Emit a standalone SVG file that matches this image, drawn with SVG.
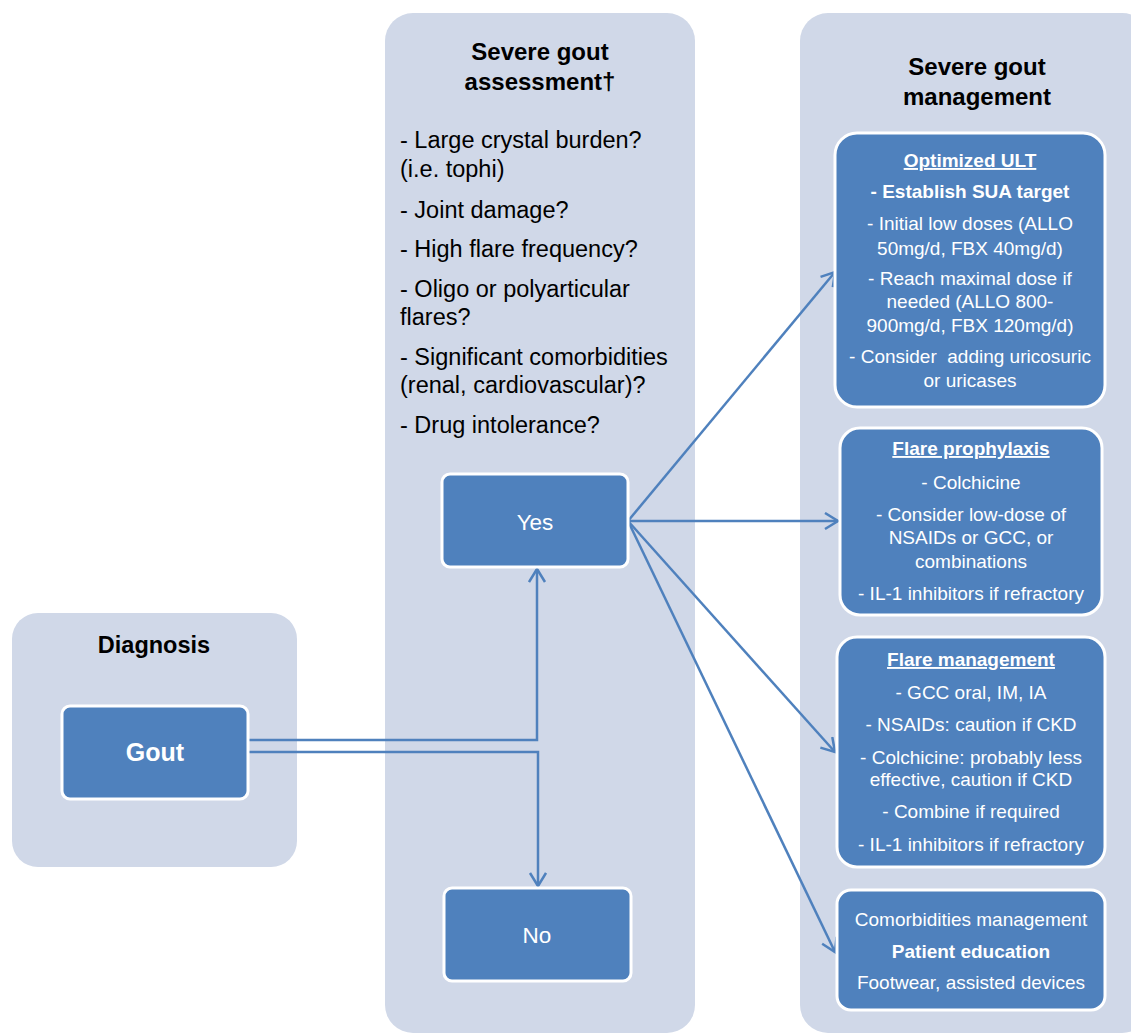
<svg xmlns="http://www.w3.org/2000/svg" width="1131" height="1035" viewBox="0 0 1131 1035">
<style>
.panel{fill:#D0D8E8}
.box{fill:#4F81BD;stroke:#FFFFFF;stroke-width:3}
.ttl{font-family:"Liberation Sans",Arial,sans-serif;font-weight:bold;font-size:24px;fill:#000;text-anchor:middle}
.lst{font-family:"Liberation Sans",Arial,sans-serif;font-size:23.5px;fill:#000}
.bt{font-family:"Liberation Sans",Arial,sans-serif;font-size:19px;fill:#fff;text-anchor:middle}
.b{font-weight:bold}
.u{text-decoration:underline}
.con{fill:none;stroke:#4F81BD;stroke-width:2.5}
</style>
<defs>
<marker id="arr" markerUnits="userSpaceOnUse" markerWidth="18" markerHeight="20" refX="14" refY="9" orient="auto">
<path d="M1,1 L14,9 L1,17" fill="none" stroke="#4F81BD" stroke-width="2.5"/>
</marker>
</defs>
<rect width="1131" height="1035" fill="#fff"/>
<g id="panel-diagnosis">
<rect class="panel" x="12" y="613" width="285" height="254" rx="26"/>
<text class="ttl" x="154" y="653" style="font-size:23.5px">Diagnosis</text>
</g>
<g id="panel-assessment">
<rect class="panel" x="385" y="13" width="310" height="1020" rx="28"/>
<text class="ttl" x="540" y="60">Severe gout</text>
<text class="ttl" x="540" y="90">assessment†</text>
<text class="lst" x="400" y="148">- Large crystal burden?</text>
<text class="lst" x="400" y="177">(i.e. tophi)</text>
<text class="lst" x="400" y="218">- Joint damage?</text>
<text class="lst" x="400" y="257">- High flare frequency?</text>
<text class="lst" x="400" y="297">- Oligo or polyarticular</text>
<text class="lst" x="400" y="325">flares?</text>
<text class="lst" x="400" y="365">- Significant comorbidities</text>
<text class="lst" x="400" y="393">(renal, cardiovascular)?</text>
<text class="lst" x="400" y="433">- Drug intolerance?</text>
</g>
<g id="panel-management">
<rect class="panel" x="800" y="13" width="350" height="1020" rx="28"/>
<text class="ttl" x="977" y="75">Severe gout</text>
<text class="ttl" x="977" y="105">management</text>
</g>
<g id="connectors">
<polyline class="con" points="248,740 537,740 537,569" marker-end="url(#arr)"/>
<polyline class="con" points="248,752 538,752 538,886" marker-end="url(#arr)"/>
<line class="con" x1="628" y1="521" x2="835" y2="272" marker-end="url(#arr)"/>
<line class="con" x1="628" y1="521" x2="838" y2="521" marker-end="url(#arr)"/>
<line class="con" x1="628" y1="521" x2="835" y2="752" marker-end="url(#arr)"/>
<line class="con" x1="628" y1="521" x2="835" y2="952" marker-end="url(#arr)"/>
</g>
<g id="node-gout">
<rect class="box" x="62" y="706" width="186" height="93" rx="8"/>
<text class="bt b" x="155" y="761" style="font-size:25px">Gout</text>
</g>
<g id="node-yes">
<rect class="box" x="442" y="474" width="186" height="93" rx="8"/>
<text class="bt" x="535" y="530" style="font-size:22.5px">Yes</text>
</g>
<g id="node-no">
<rect class="box" x="444" y="888" width="187" height="93" rx="8"/>
<text class="bt" x="537" y="943" style="font-size:22.5px">No</text>
</g>
<g id="node-ult">
<rect class="box" x="835" y="133" width="270" height="274" rx="22"/>
<text class="bt b u" x="970" y="167">Optimized ULT</text>
<text class="bt b" x="970" y="198">- Establish SUA target</text>
<text class="bt" x="970" y="230">- Initial low doses (ALLO</text>
<text class="bt" x="970" y="255">50mg/d, FBX 40mg/d)</text>
<text class="bt" x="970" y="285">- Reach maximal dose if</text>
<text class="bt" x="970" y="308">needed (ALLO 800-</text>
<text class="bt" x="970" y="332">900mg/d, FBX 120mg/d)</text>
<text class="bt" x="970" y="363" xml:space="preserve">- Consider  adding uricosuric</text>
<text class="bt" x="970" y="387">or uricases</text>
</g>
<g id="node-prophylaxis">
<rect class="box" x="840" y="428" width="262" height="187" rx="20"/>
<text class="bt b u" x="971" y="455">Flare prophylaxis</text>
<text class="bt" x="971" y="489">- Colchicine</text>
<text class="bt" x="971" y="521">- Consider low-dose of</text>
<text class="bt" x="971" y="544">NSAIDs or GCC, or</text>
<text class="bt" x="971" y="568">combinations</text>
<text class="bt" x="971" y="600">- IL-1 inhibitors if refractory</text>
</g>
<g id="node-flare-management">
<rect class="box" x="837" y="637" width="268" height="230" rx="20"/>
<text class="bt b u" x="971" y="666">Flare management</text>
<text class="bt" x="971" y="699">- GCC oral, IM, IA</text>
<text class="bt" x="971" y="731">- NSAIDs: caution if CKD</text>
<text class="bt" x="971" y="764">- Colchicine: probably less</text>
<text class="bt" x="971" y="786">effective, caution if CKD</text>
<text class="bt" x="971" y="818">- Combine if required</text>
<text class="bt" x="971" y="851">- IL-1 inhibitors if refractory</text>
</g>
<g id="node-comorbidities">
<rect class="box" x="837" y="890" width="268" height="120" rx="14"/>
<text class="bt" x="971" y="926">Comorbidities management</text>
<text class="bt b" x="971" y="958">Patient education</text>
<text class="bt" x="971" y="989">Footwear, assisted devices</text>
</g>
</svg>
